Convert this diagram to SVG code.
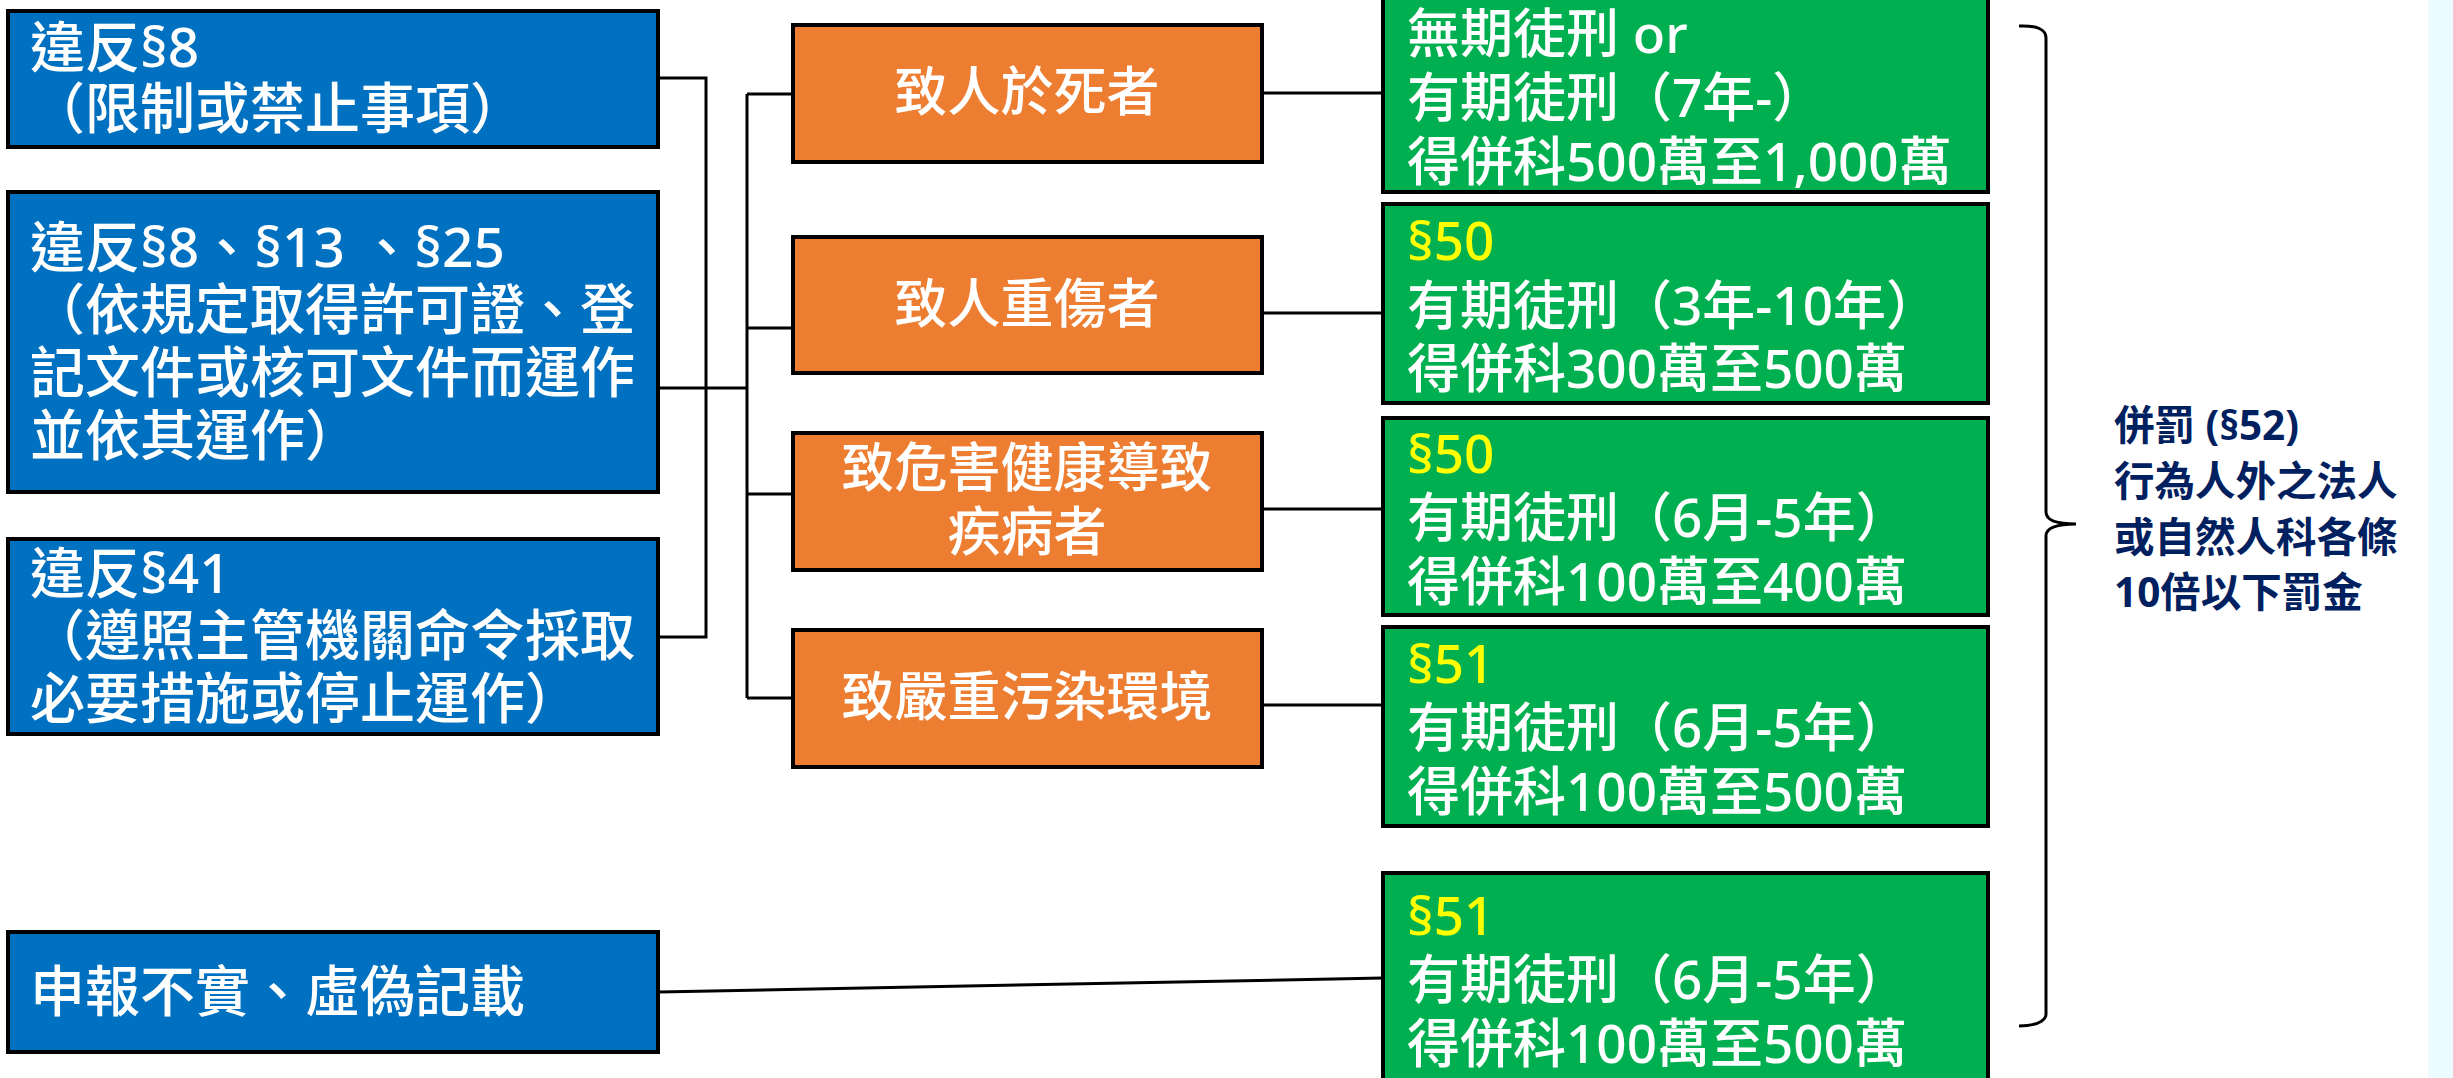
<svg xmlns="http://www.w3.org/2000/svg" width="2453" height="1078" viewBox="0 0 2453 1078">
  <style>
    .bg { fill: #FFFFFF; }
    .strip { fill: #EBFBFF; }
    .blue { fill: #0070C0; stroke: #000000; stroke-width: 4; }
    .orange { fill: #ED7D31; stroke: #000000; stroke-width: 4; }
    .green { fill: #00B050; stroke: #000000; stroke-width: 4; }
    .t { font-family: "Noto Sans", "Noto Sans CJK TC", sans-serif; font-weight: 500; fill: #FFFFFF; }
    .tb { font-size: 55px; }
    .to { font-size: 53px; text-anchor: middle; }
    .tg { font-size: 53px; }
    .y { fill: #FFFF00; }
    .note { font-family: "Noto Sans", "Noto Sans CJK TC", sans-serif; font-size: 40.5px; font-weight: 700; fill: #002060; }
    .conn { fill: none; stroke: #000000; stroke-width: 3; }
  </style>
  <rect class="bg" x="0" y="0" width="2453" height="1078"/>
  <rect class="strip" x="2428" y="0" width="25" height="1078"/>

  <g id="connectors">
    <path class="conn" d="M659,78 H706 V637 H659"/>
    <path class="conn" d="M659,388 H747"/>
    <path class="conn" d="M747,94 V698"/>
    <path class="conn" d="M747,94 H793 M747,328 H793 M747,494 H793 M747,698 H793"/>
    <path class="conn" d="M1262,93 H1383 M1262,313 H1383 M1262,509 H1383 M1262,705 H1383"/>
    <path class="conn" d="M659,992 L1383,978"/>
    <path class="conn" d="M2019,26 Q2046,25 2046,38 L2046,512 Q2046,524 2076,524 Q2046,524 2046,536 L2046,1014 Q2046,1025 2019,1026"/>
  </g>

  <g id="blue1">
    <rect class="blue" x="8" y="11" width="650" height="136"/>
    <text class="t tb" x="30" y="67">違反§8</text>
    <text class="t tb" x="30" y="128">（限制或禁止事項）</text>
  </g>
  <g id="blue2">
    <rect class="blue" x="8" y="192" width="650" height="300"/>
    <text class="t tb" x="30" y="267">違反§8、§13 、§25</text>
    <text class="t tb" x="30" y="329">（依規定取得許可證、登</text>
    <text class="t tb" x="30" y="392">記文件或核可文件而運作</text>
    <text class="t tb" x="30" y="455">並依其運作）</text>
  </g>
  <g id="blue3">
    <rect class="blue" x="8" y="539" width="650" height="195"/>
    <text class="t tb" x="30" y="593">違反§41</text>
    <text class="t tb" x="30" y="655">（遵照主管機關命令採取</text>
    <text class="t tb" x="30" y="718">必要措施或停止運作）</text>
  </g>
  <g id="blue4">
    <rect class="blue" x="8" y="932" width="650" height="120"/>
    <text class="t tb" x="30" y="1011">申報不實、虛偽記載</text>
  </g>

  <g id="orange1">
    <rect class="orange" x="793" y="25" width="469" height="137"/>
    <text class="t to" x="1027" y="111">致人於死者</text>
  </g>
  <g id="orange2">
    <rect class="orange" x="793" y="237" width="469" height="136"/>
    <text class="t to" x="1027" y="323">致人重傷者</text>
  </g>
  <g id="orange3">
    <rect class="orange" x="793" y="433" width="469" height="137"/>
    <text class="t to" x="1027" y="487">致危害健康導致</text>
    <text class="t to" x="1027" y="551">疾病者</text>
  </g>
  <g id="orange4">
    <rect class="orange" x="793" y="630" width="469" height="137"/>
    <text class="t to" x="1027" y="716">致嚴重污染環境</text>
  </g>

  <g id="green1">
    <rect class="green" x="1383" y="-4" width="605" height="196"/>
    <text class="t tg" x="1407" y="53">無期徒刑 or</text>
    <text class="t tg" x="1407" y="117">有期徒刑（7年-）</text>
    <text class="t tg" x="1407" y="181">得併科500萬至1,000萬</text>
  </g>
  <g id="green2">
    <rect class="green" x="1383" y="204" width="605" height="199"/>
    <text class="t tg y" x="1407" y="260">§50</text>
    <text class="t tg" x="1407" y="325">有期徒刑（3年-10年）</text>
    <text class="t tg" x="1407" y="388">得併科300萬至500萬</text>
  </g>
  <g id="green3">
    <rect class="green" x="1383" y="418" width="605" height="197"/>
    <text class="t tg y" x="1407" y="473">§50</text>
    <text class="t tg" x="1407" y="537">有期徒刑（6月-5年）</text>
    <text class="t tg" x="1407" y="601">得併科100萬至400萬</text>
  </g>
  <g id="green4">
    <rect class="green" x="1383" y="627" width="605" height="199"/>
    <text class="t tg y" x="1407" y="683">§51</text>
    <text class="t tg" x="1407" y="747">有期徒刑（6月-5年）</text>
    <text class="t tg" x="1407" y="811">得併科100萬至500萬</text>
  </g>
  <g id="green5">
    <rect class="green" x="1383" y="873" width="605" height="212"/>
    <text class="t tg y" x="1407" y="935">§51</text>
    <text class="t tg" x="1407" y="999">有期徒刑（6月-5年）</text>
    <text class="t tg" x="1407" y="1063">得併科100萬至500萬</text>
  </g>

  <g id="note">
    <text class="note" x="2114" y="440">併罰 (§52)</text>
    <text class="note" x="2114" y="496">行為人外之法人</text>
    <text class="note" x="2114" y="552">或自然人科各條</text>
    <text class="note" x="2114" y="607">10倍以下罰金</text>
  </g>
</svg>
